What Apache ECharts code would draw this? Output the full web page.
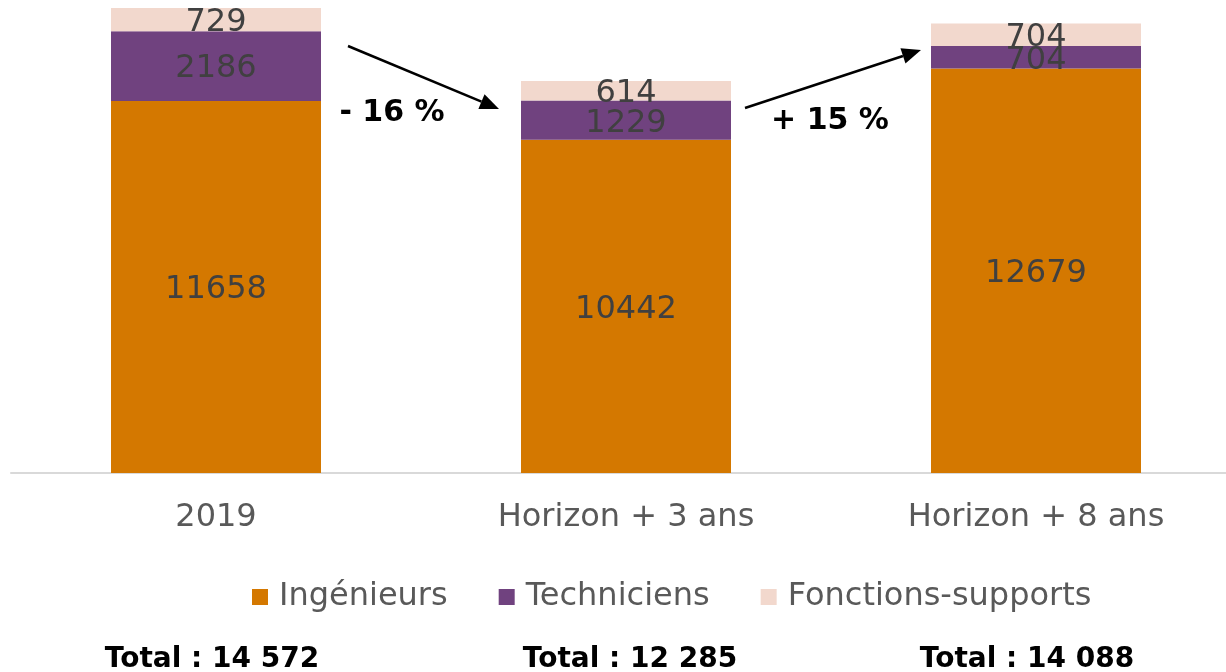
<!DOCTYPE html>
<html>
<head>
<meta charset="utf-8">
<script src="https://cdn.jsdelivr.net/npm/echarts@6/dist/echarts.min.js"></script>
<style>
  html, body { margin: 0; padding: 0; background: #fff; }
  #chart { width: 1226px; height: 672px; }
</style>
</head>
<body>
<div id="chart"></div>
<script>
// Effectifs par catégorie
const categories = ['2019', 'Horizon + 3 ans', 'Horizon + 8 ans'];
const ingenieurs = [11658, 10442, 12679];
const techniciens = [2186, 1229, 704];
const fonctionsSupports = [729, 614, 704];
const totalLabels = ['Total : 14 572', 'Total : 12 285', 'Total : 14 088'];
const evolutionLabels = ['- 16 %', '+ 15 %'];

const FONT = '"DejaVu Sans", Verdana, sans-serif';
const chart = echarts.init(document.getElementById('chart'));

const labelStyle = {
  show: true,
  position: 'inside',
  offset: [0, 3],
  color: '#404040',
  fontFamily: FONT,
  fontSize: 32
};

function barSeries(name, data, color) {
  return {
    name: name,
    type: 'bar',
    stack: 'effectifs',
    data: data,
    barWidth: 210,
    itemStyle: { color: color },
    label: labelStyle,
    emphasis: { disabled: true }
  };
}

chart.setOption({
  animation: false,
  grid: { left: 11, right: -15, top: 8, bottom: 199, containLabel: false, outerBoundsMode: 'none' },
  xAxis: {
    type: 'category',
    data: categories,
    axisLine: { lineStyle: { color: '#d9d9d9', width: 2 } },
    axisTick: { show: false },
    axisLabel: { color: '#595959', fontFamily: FONT, fontSize: 32, margin: 29 }
  },
  yAxis: {
    type: 'value',
    min: 0,
    max: function (v) { return v.max; },
    show: false,
    splitLine: { show: false }
  },
  legend: {
    left: 247,
    top: 576,
    itemWidth: 16,
    itemHeight: 16,
    itemGap: 51,
    icon: 'rect',
    textStyle: { color: '#595959', fontFamily: FONT, fontSize: 32, padding: [0, 0, 0, 6] }
  },
  series: [
    barSeries('Ingénieurs', ingenieurs, '#D47800'),
    barSeries('Techniciens', techniciens, '#70427F'),
    barSeries('Fonctions-supports', fonctionsSupports, '#F2D8CD')
  ]
});

// Annotations: flèches d'évolution, pourcentages et totaux
function arrow(x1, y1, x2, y2) {
  const ang = Math.atan2(y2 - y1, x2 - x1);
  const len = 19, half = 8;
  const bx = x2 - len * Math.cos(ang), by = y2 - len * Math.sin(ang);
  const px = -Math.sin(ang) * half, py = Math.cos(ang) * half;
  return [
    { type: 'line', shape: { x1: x1, y1: y1, x2: bx, y2: by }, style: { stroke: '#000', lineWidth: 2.5 } },
    { type: 'polygon', shape: { points: [[x2, y2], [bx + px, by + py], [bx - px, by - py]] }, style: { fill: '#000' } }
  ];
}

const boldText = (size) => ({ fill: '#000', fontFamily: FONT, fontWeight: 'bold', fontSize: size });
const totalX = [212, 630, 1027];

const graphics = []
  .concat(arrow(348, 46, 499, 109))
  .concat(arrow(745, 108, 921, 50));

graphics.push({ type: 'text', x: 392, y: 113, style: Object.assign({ text: evolutionLabels[0], align: 'center', verticalAlign: 'middle' }, boldText(30)) });
graphics.push({ type: 'text', x: 830, y: 121, style: Object.assign({ text: evolutionLabels[1], align: 'center', verticalAlign: 'middle' }, boldText(30)) });

totalLabels.forEach((t, i) => {
  graphics.push({ type: 'text', x: totalX[i], y: 660, style: Object.assign({ text: t, align: 'center', verticalAlign: 'middle' }, boldText(28)) });
});

chart.setOption({ graphic: graphics });
</script>
</body>
</html>
